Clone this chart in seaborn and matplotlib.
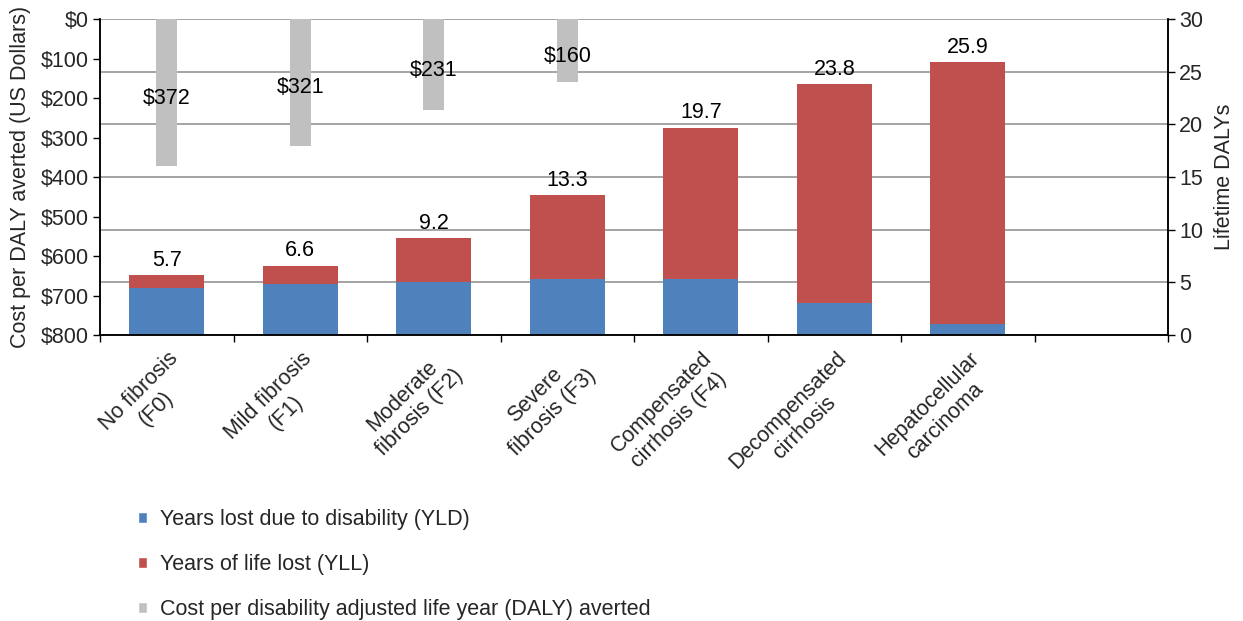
import numpy as np
import pandas as pd
import matplotlib
matplotlib.use("Agg")
import matplotlib.pyplot as plt
import matplotlib.transforms as mtransforms
from matplotlib.patches import Patch
import seaborn as sns

# Fibrosis / liver-disease stages (last slot intentionally left empty)
categories = [
    "No fibrosis\n(F0)",
    "Mild fibrosis\n(F1)",
    "Moderate\nfibrosis (F2)",
    "Severe\nfibrosis (F3)",
    "Compensated\ncirrhosis (F4)",
    "Decompensated\ncirrhosis",
    "Hepatocellular\ncarcinoma",
]
slot_order = categories + [" "]

# Lifetime DALYs by stage
daly_total = [5.7, 6.6, 9.2, 13.3, 19.7, 23.8, 25.9]
yld = [4.5, 4.8, 5.0, 5.3, 5.3, 3.0, 1.0]

# Cost per DALY averted (US$) for the treated stages
cost_categories = categories[:4]
cost_per_daly = [372, 321, 231, 160]

cost_ticks = list(range(0, 801, 100))
daly_ticks = list(range(0, 31, 5))

BLUE = "#4F81BD"
RED = "#C0504D"
GREY = "#C0C0C0"
FS = 15.5

sns.set_theme(style="ticks")
plt.rcParams["font.family"] = ["Liberation Sans", "DejaVu Sans"]
plt.rcParams["font.size"] = FS

df_daly = pd.DataFrame({"stage": categories, "total": daly_total, "yld": yld})
df_cost = pd.DataFrame({"stage": cost_categories, "cost": cost_per_daly})

fig = plt.figure(figsize=(12.43, 6.21), dpi=100)
ax = fig.add_axes([0.0805, 0.4605, 0.8592, 0.5089])
ax2 = ax.twinx()

# Stacked DALY bars on the right-hand scale: total (YLL on top) then YLD overlay
sns.barplot(data=df_daly, x="stage", y="total", order=slot_order, color=RED,
            saturation=1, width=0.56, linewidth=0, errorbar=None, ax=ax2)
sns.barplot(data=df_daly, x="stage", y="yld", order=slot_order, color=BLUE,
            saturation=1, width=0.56, linewidth=0, errorbar=None, ax=ax2)
ax2.bar_label(ax2.containers[0], labels=[f"{v:.1f}" for v in daly_total],
              padding=3, fontsize=FS, color="black")

ax2.set_ylim(0, 30)
ax2.set_yticks(daly_ticks)
ax2.set_ylabel("Lifetime DALYs", fontsize=FS, labelpad=8)
ax2.yaxis.grid(True, color="#8C8C8C", linewidth=1.1)
ax2.set_axisbelow(True)

# Cost bars hang from the top of the inverted left-hand scale
sns.barplot(data=df_cost, x="stage", y="cost", order=slot_order, color=GREY,
            saturation=1, width=0.16, linewidth=0, errorbar=None, ax=ax)
cost_labels = ax.bar_label(ax.containers[0], labels=[f"${v}" for v in cost_per_daly],
                           label_type="center", fontsize=FS, color="black")
for ann in cost_labels:
    ann.xyann = (0, -4)
ax.set_ylim(800, 0)
ax.set_yticks(cost_ticks)
ax.set_yticklabels([f"${v}" for v in cost_ticks])
ax.set_ylabel("Cost per DALY averted (US Dollars)", fontsize=FS, labelpad=7)
ax.set_xlabel("")
ax2.set_xlabel("")

# Draw the cost axes above the DALY axes so the gridlines stay behind grey bars
ax.set_zorder(ax2.get_zorder() + 1)
ax.patch.set_visible(False)

ax.set_xlim(-0.5, len(slot_order) - 0.5)
ax.set_xticks(np.arange(-0.5, len(slot_order)), minor=True)
ax.tick_params(axis="x", which="major", length=0, pad=0)
ax.tick_params(axis="x", which="minor", length=5, width=1, color="black", direction="out")
ax.tick_params(axis="y", length=5, width=1, color="black", direction="out", labelsize=FS, pad=3)
ax2.tick_params(axis="y", length=5, width=1, color="black", direction="out", labelsize=FS, pad=3)

ax.set_xticks(range(len(slot_order)))
ax.set_xticklabels(slot_order, rotation=45, ha="right", va="center",
                   rotation_mode="anchor", multialignment="center", fontsize=FS)
# Anchor each rotated label a little right of and below its category centre
shift = mtransforms.ScaledTranslation(0.17, -0.29, fig.dpi_scale_trans)
for lbl in ax.get_xticklabels():
    lbl.set_transform(lbl.get_transform() + shift)

for a in (ax, ax2):
    for side in ("left", "right", "bottom"):
        a.spines[side].set_color("black")
        a.spines[side].set_linewidth(1.1)
    a.spines["top"].set_visible(False)

handles = [
    Patch(facecolor=BLUE, label="Years lost due to disability (YLD)"),
    Patch(facecolor=RED, label="Years of life lost (YLL)"),
    Patch(facecolor=GREY, label="Cost per disability adjusted life year (DALY) averted"),
]
fig.legend(handles=handles, loc="upper left", bbox_to_anchor=(0.111, 0.18),
           frameon=False, fontsize=FS, handlelength=0.4, handleheight=0.4,
           handletextpad=0.6, labelspacing=1.12, borderpad=0, borderaxespad=0)

fig.savefig("out.png", dpi=100)
